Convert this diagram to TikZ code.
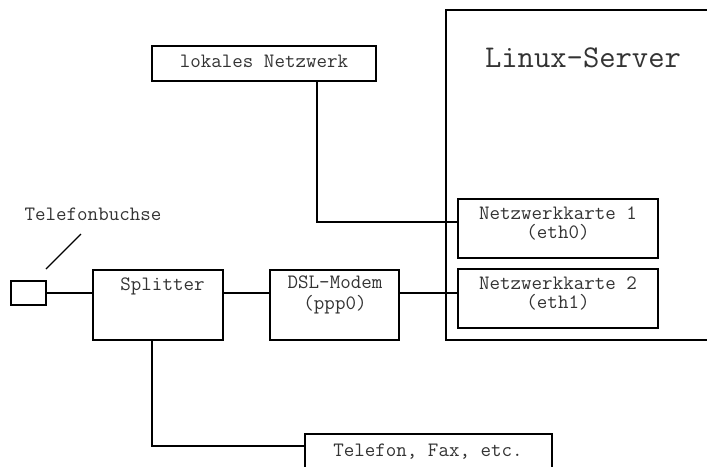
\documentclass[tikz,border=0pt]{standalone}
\begin{document}
\begin{tikzpicture}[x=1pt,y=-1pt,
  box/.style={draw=black, line width=1.2pt, rectangle, inner sep=0pt},
  lbl/.style={anchor=base, inner sep=0pt, text=black!80,
    font=\ttfamily\fontsize{20.4}{22}\selectfont},
  big/.style={anchor=base, inner sep=0pt, text=black!80,
    font=\ttfamily\fontsize{31.7}{34}\selectfont},
  wire/.style={draw=black, line width=1.2pt}]
\useasboundingbox (0,0) rectangle (707,466);
\clip (0,0) rectangle (707,466);

% server enclosure (runs off the right edge)
\draw[box] (446,10) rectangle (730,340);
\node[big] (srvtxt) at (583,67) {Linux-Server};

% boxes
\node[box, minimum width=35pt, minimum height=24pt] (jack) at (28.5,293) {};
\node[box, minimum width=130pt, minimum height=70pt] (split) at (158,305) {};
\node[box, minimum width=129pt, minimum height=70pt] (modem) at (334.5,305) {};
\node[box, minimum width=200pt, minimum height=59pt] (nk1) at (558,228.5) {};
\node[box, minimum width=200pt, minimum height=59pt] (nk2) at (558,298.5) {};
\node[box, minimum width=224pt, minimum height=35pt] (lan) at (264,63.5) {};
\node[box, minimum width=247pt, minimum height=60pt] (tel) at (428.5,464) {};

% texts
\node[lbl] (jacktxt) at (93,220) {Telefonbuchse};
\node[lbl] (splittxt) at (162.5,290) {Splitter};
\node[lbl] (modemtxtA) at (335,288) {DSL-Modem};
\node[lbl] (modemtxtB) at (335,309) {(ppp0)};
\node[lbl] (nk1txtA) at (558,219) {Netzwerkkarte 1};
\node[lbl] (nk1txtB) at (558,238) {(eth0)};
\node[lbl] (nk2txtA) at (558,289) {Netzwerkkarte 2};
\node[lbl] (nk2txtB) at (558,308) {(eth1)};
\node[lbl] (lantxt) at (264,67) {lokales Netzwerk};
\node[lbl] (teltxt) at (428,456) {Telefon, Fax, etc.};

% pointer from label to jack
\coordinate (ptrA) at (46,269);
\coordinate (ptrB) at (81,234);
\draw[wire] (ptrA) -- (ptrB);

% connections
\draw[wire] (jack.east) -- (jack.east -| split.west);
\draw[wire] (split.east |- 0,293) -- (modem.west |- 0,293);
\draw[wire] (modem.east |- 0,293) -- (nk2.west |- 0,293);
\draw[wire] (lan.south -| 317,0) |- (nk1.west |- 0,222);
\draw[wire] (split.south -| 152,0) |- (tel.west |- 0,446);
\end{tikzpicture}
\end{document}
